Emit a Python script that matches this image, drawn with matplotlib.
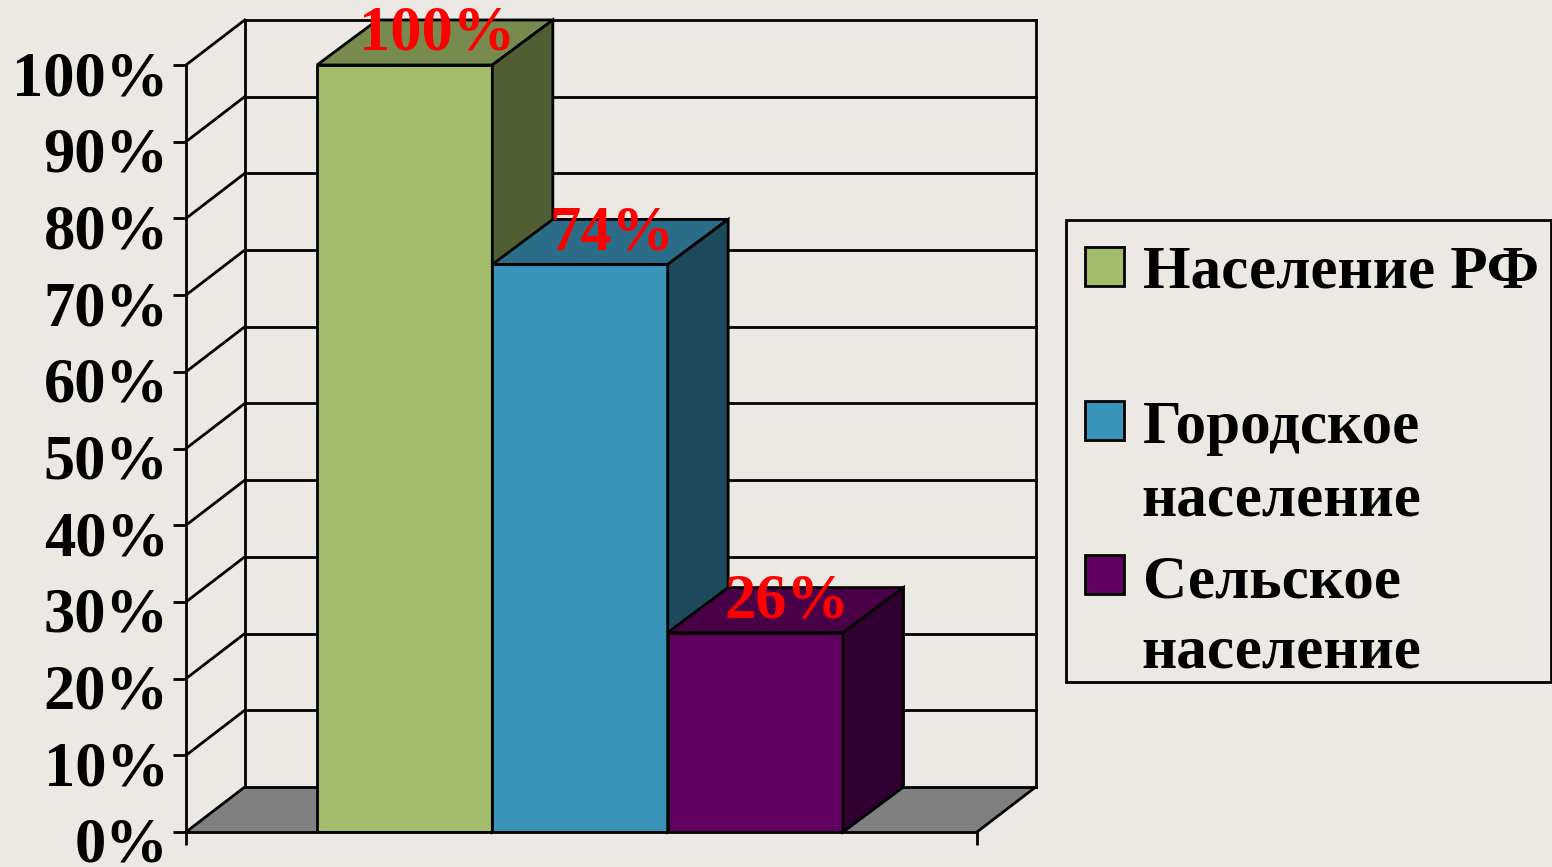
from matplotlib import pyplot as plt
from matplotlib.patches import Rectangle
from matplotlib.transforms import ScaledTranslation

# chart values
categories = ["Население РФ", "Городское население", "Сельское население"]
values = [100, 74, 26]
value_labels = ["100%", "74%", "26%"]
y_ticks = [0, 10, 20, 30, 40, 50, 60, 70, 80, 90, 100]
y_tick_labels = ["0%", "10%", "20%", "30%", "40%", "50%", "60%", "70%", "80%", "90%", "100%"]

# front, top, side colours of each bar
front_colours = ["#a2bc6b", "#3a93b8", "#62005f"]
top_colours = ["#778b4f", "#2b6d88", "#490046"]
side_colours = ["#505f33", "#1d4a5c", "#300030"]
background = "#ece8e4"
serif = ["Liberation Serif", "DejaVu Serif"]

# fake 3d offset in data units
wall_depth_x = 0.335
bar_depth_x = 0.345
depth_y = 5.87
x_left = -1.247
x_right = 3.264
line_w = 2.0

fig = plt.figure(figsize=(15.52, 8.67), dpi=100, facecolor=background)
ax = fig.add_axes([186 / 1552, 1 - 832 / 867, (977 - 186) / 1552, (832 - 65) / 867])
ax.set_facecolor("none")
ax.set_xlim(x_left, x_right)
ax.set_ylim(0, 100)

# floor
ax.fill(
    [x_left, x_right, x_right + wall_depth_x, x_left + wall_depth_x],
    [0, 0, depth_y, depth_y],
    facecolor="#808080", edgecolor="none", zorder=1, clip_on=False
)
ax.plot([x_right, x_right + wall_depth_x], [0, depth_y], color="black", lw=line_w, zorder=2, clip_on=False)

# back wall and grid lines
for tick in y_ticks:
    ax.plot([x_left + wall_depth_x, x_right + wall_depth_x], [tick + depth_y] * 2,
            color="black", lw=line_w, zorder=2, clip_on=False)
    ax.plot([x_left, x_left + wall_depth_x], [tick, tick + depth_y],
            color="black", lw=line_w, zorder=2, clip_on=False)
for wall_x in [x_left + wall_depth_x, x_right + wall_depth_x]:
    ax.plot([wall_x, wall_x], [depth_y, 100 + depth_y], color="black", lw=line_w, zorder=2, clip_on=False)

# bars, back faces first so the next bar covers them
for i, value in enumerate(values):
    ax.bar(i, value, width=1, color=front_colours[i], edgecolor="black", linewidth=line_w, zorder=3 + i)
    ax.fill(
        [i - 0.5, i + 0.5, i + 0.5 + bar_depth_x, i - 0.5 + bar_depth_x],
        [value, value, value + depth_y, value + depth_y],
        facecolor=top_colours[i], edgecolor="black", linewidth=line_w, zorder=3 + i, clip_on=False
    )
    ax.fill(
        [i + 0.5, i + 0.5 + bar_depth_x, i + 0.5 + bar_depth_x, i + 0.5],
        [0, depth_y, value + depth_y, value],
        facecolor=side_colours[i], edgecolor="black", linewidth=line_w, zorder=3 + i, clip_on=False
    )
    ax.text(i + bar_depth_x / 2 + 0.01, value + 2, value_labels[i], color="#ff0000", ha="center", va="baseline",
            family=serif, weight="bold", fontsize=45, zorder=10, clip_on=False)

# axes
for side in ["top", "right"]:
    ax.spines[side].set_visible(False)
for side in ["left", "bottom"]:
    ax.spines[side].set_linewidth(line_w)
    ax.spines[side].set_zorder(9)
ax.set_yticks(y_ticks)
ax.set_yticklabels(y_tick_labels, family=serif, weight="bold", fontsize=45, va="baseline")
ax.set_xticks([x_left, x_right])
ax.set_xticklabels(["", ""])
ax.tick_params(axis="both", length=9.5, width=line_w, pad=3)
# labels hang below their ticks in the picture, about 30 px
shift_down = ScaledTranslation(0, -30 / 100, fig.dpi_scale_trans)
for label in ax.get_yticklabels():
    label.set_transform(label.get_transform() + shift_down)

# legend, the line breaks are uneven in the picture so it is placed by hand (pixel coords)
leg = fig.add_axes([0, 0, 1, 1])
leg.set_xlim(0, 1552)
leg.set_ylim(867, 0)
leg.axis("off")
leg.add_patch(Rectangle((1066, 220), 485, 462, facecolor="none", edgecolor="black", linewidth=line_w, clip_on=False))
swatch_tops = [247, 401, 555]
for top, colour in zip(swatch_tops, front_colours):
    leg.add_patch(Rectangle((1085, top), 39, 39, facecolor=colour, edgecolor="black", linewidth=line_w))
legend_lines = ["Население РФ", "Городское", "население", "Сельское", "население"]
legend_baselines = [288, 443, 515, 598, 668]
legend_x = [1143, 1143, 1141, 1143, 1141]
for line, base, text_x in zip(legend_lines, legend_baselines, legend_x):
    leg.text(text_x, base, line, family=serif, weight="bold", fontsize=44, va="baseline", ha="left")

fig.savefig("out.png", dpi=100, facecolor=background)
